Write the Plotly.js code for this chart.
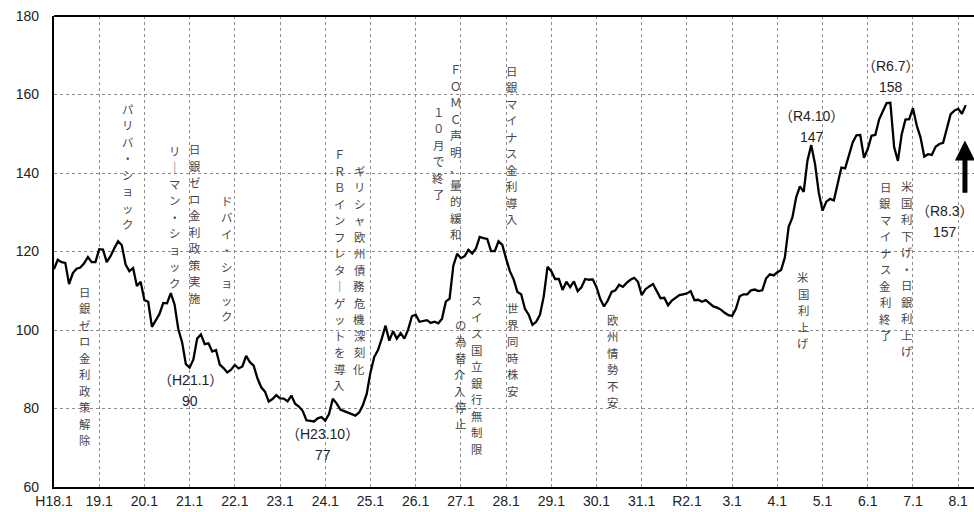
<!DOCTYPE html>
<html>
<head>
<meta charset="utf-8">
<script src="https://cdn.plot.ly/plotly-3.0.1.min.js"></script>
<style>
html,body{margin:0;padding:0;background:#fff;}
#chart{width:974px;height:512px;}
</style>
</head>
<body>
<div id="chart"></div>
<script>
// Monthly USD/JPY (yen per dollar), H18.1 (2006.1) – R8.3 (2026.3)
const y2006 = [115.5,117.9,117.3,117.1,111.7,114.5,115.6,115.9,117.0,118.6,117.3,117.3];
const y2007 = [120.6,120.5,117.3,118.8,120.8,122.6,121.6,116.7,115.0,115.8,111.2,112.3];
const y2008 = [107.6,107.2,100.8,102.4,104.1,106.9,106.8,109.4,106.5,100.2,96.9,91.3];
const y2009 = [90.4,92.5,97.8,98.9,96.4,96.6,94.5,94.9,91.2,90.3,89.2,89.9];
const y2010 = [91.1,90.2,90.7,93.4,91.8,90.9,87.7,85.4,84.3,81.8,82.4,83.4];
const y2011 = [82.6,82.5,81.8,83.3,81.2,80.5,79.4,77.0,76.8,76.7,77.5,77.8];
const y2012 = [76.9,78.6,82.5,81.3,79.7,79.3,79.0,78.7,78.2,79.0,80.9,83.7];
const y2013 = [89.2,93.1,94.9,97.8,101.1,97.3,99.7,97.8,99.2,97.8,100.1,103.5];
const y2014 = [103.9,102.1,102.3,102.5,101.8,102.1,101.7,102.9,107.2,108.0,116.4,119.4];
const y2015 = [118.3,118.8,120.4,119.5,120.8,123.7,123.4,123.2,120.1,120.1,122.6,121.7];
const y2016 = [118.2,115.0,112.9,109.7,109.1,105.4,103.9,101.3,102.1,103.9,108.6,116.1];
const y2017 = [115.0,113.0,113.0,110.2,112.3,110.9,112.4,109.9,110.9,113.0,112.8,112.9];
const y2018 = [110.9,107.9,106.0,107.5,109.7,110.1,111.5,111.0,112.0,112.8,113.3,112.3];
const y2019 = [108.9,110.4,111.1,111.7,109.9,108.1,108.2,106.3,107.5,108.2,108.9,109.1];
const y2020 = [109.3,109.9,107.6,107.7,107.2,107.6,106.8,106.0,105.7,105.2,104.4,103.8];
const y2021 = [103.6,105.4,108.6,109.1,109.1,110.1,110.3,109.9,110.1,113.1,114.2,113.9];
const y2022 = [114.7,115.3,118.5,126.3,128.7,133.8,136.6,135.2,143.2,147.1,142.3,135.0];
const y2023 = [130.4,132.7,133.4,133.0,137.2,141.4,141.2,144.7,147.8,149.6,149.7,143.9];
const y2024 = [146.1,149.5,149.7,153.6,155.9,157.8,157.9,146.6,143.1,149.8,153.6,153.7];
const y2025 = [156.5,152.1,149.1,144.2,144.8,144.6,146.7,147.4,147.7,151.6,155.0,155.9];
const y2026 = [156.4,155.1,157.3];

const rates = [].concat(y2006,y2007,y2008,y2009,y2010,y2011,y2012,y2013,y2014,y2015,
  y2016,y2017,y2018,y2019,y2020,y2021,y2022,y2023,y2024,y2025,y2026);
const monthIndex = rates.map((_, i) => i);

const tickLabels = ['H18.1','19.1','20.1','21.1','22.1','23.1','24.1','25.1','26.1','27.1',
  '28.1','29.1','30.1','31.1','R2.1','3.1','4.1','5.1','6.1','7.1','8.1'];
const tickMonths = tickLabels.map((_, i) => i * 12);

// event notes (vertical text) : [text, month position, value position of column centre]
const eventNotes = [
  ['日銀ゼロ金利政策解除', 8.1, 90.8],
  ['パリバ・ショック', 19.6, 141.6],
  ['リーマン・ショック', 32.1, 128.8],
  ['日銀ゼロ金利政策実施', 37.4, 127.1],
  ['ドバイ・ショック', 45.7, 118.2],
  ['ＦＲＢインフレターゲットを導入', 75.7, 115.4],
  ['ギリシャ欧州債務危機深刻化', 81.0, 115.4],
  ['１０月で終了', 102.0, 145.1],
  ['ＦＯＭＣ声明、量的緩和', 106.7, 145.4],
  ['の為替介入停止', 107.8, 88.7],
  ['スイス国立銀行無制限', 112.2, 88.7],
  ['日銀マイナス金利導入', 121.5, 147.1],
  ['世界同時株安', 121.8, 95.0],
  ['欧州情勢不安', 148.3, 92.1],
  ['米国利上げ', 198.9, 105.0],
  ['日銀マイナス金利終了', 220.6, 117.6],
  ['米国利下げ・日銀利上げ', 226.4, 115.6]
];
// value notes : [period, value, month position, value position]
const valueNotes = [
  ['H21.1', '90', 36.1, 84.6],
  ['H23.10', '77', 71.4, 70.8],
  ['R4.10', '147', 201.1, 151.9],
  ['R6.7', '158', 222.1, 164.6],
  ['R8.3', '157', 236.6, 127.7]
];

const CHAR_STEP = 16.5;   // px between stacked characters
const annotations = [];
eventNotes.forEach(([t, x, y]) => {
  const chars = Array.from(t.replace(/ー/g, '｜'));
  const n = chars.length;
  chars.forEach((c, k) => {
    annotations.push({
      x: x, y: y, xref: 'x', yref: 'y', text: c, showarrow: false,
      xanchor: 'center', yanchor: 'middle', yshift: ((n - 1) / 2 - k) * CHAR_STEP,
      font: {family: '"Noto Sans CJK JP", sans-serif', size: 11.4, color: '#454545'}
    });
  });
});
valueNotes.forEach(([p, v, x, y]) => {
  const f = {family: '"Liberation Sans", "Noto Sans CJK JP", sans-serif', size: 14, color: '#222'};
  annotations.push({x: x, y: y, xref: 'x', yref: 'y', text: '（' + p + '）', showarrow: false,
    xanchor: 'center', yanchor: 'middle', yshift: 10.3, font: f});
  annotations.push({x: x, y: y, xref: 'x', yref: 'y', text: v, showarrow: false,
    xanchor: 'center', yanchor: 'middle', yshift: -10.3, font: f});
});
// arrow pointing at latest value
annotations.push({
  x: 241.8, y: 148.3, ax: 241.8, ay: 134.6, xref: 'x', yref: 'y', axref: 'x', ayref: 'y',
  text: '', showarrow: true, arrowhead: 2, arrowsize: 0.8, arrowwidth: 5, arrowcolor: '#000'
});

const trace = {
  x: monthIndex, y: rates, type: 'scatter', mode: 'lines',
  line: {color: '#000', width: 2.3}, hoverinfo: 'skip'
};

const gridCol = '#8c8c8c';
const layout = {
  width: 974, height: 512,
  margin: {l: 54, r: 0, t: 16, b: 25},
  paper_bgcolor: '#fff', plot_bgcolor: '#fff',
  showlegend: false,
  xaxis: {
    range: [0, 244.2], tickmode: 'array', tickvals: tickMonths, ticktext: tickLabels,
    showgrid: true, gridcolor: gridCol, griddash: 'dot', gridwidth: 1,
    showline: true, linecolor: '#000', linewidth: 2.2, zeroline: false,
    ticks: '', tickfont: {family: '"Liberation Sans", Arial, sans-serif', size: 14, color: '#222'}
  },
  yaxis: {
    range: [60, 180], tickmode: 'array', tickvals: [60, 80, 100, 120, 140, 160, 180],
    showgrid: true, gridcolor: gridCol, griddash: 'dot', gridwidth: 1,
    showline: true, linecolor: '#000', linewidth: 2.2, zeroline: false,
    ticks: '', ticklabelstandoff: 10,
    tickfont: {family: '"Liberation Sans", Arial, sans-serif', size: 14, color: '#222'}
  },
  shapes: [{type: 'line', xref: 'paper', yref: 'paper', x0: 0, x1: 1, y0: 1, y1: 1,
    line: {color: '#000', width: 2.2}}],
  annotations: annotations
};

Plotly.newPlot('chart', [trace], layout, {staticPlot: true, displayModeBar: false});
</script>
</body>
</html>
